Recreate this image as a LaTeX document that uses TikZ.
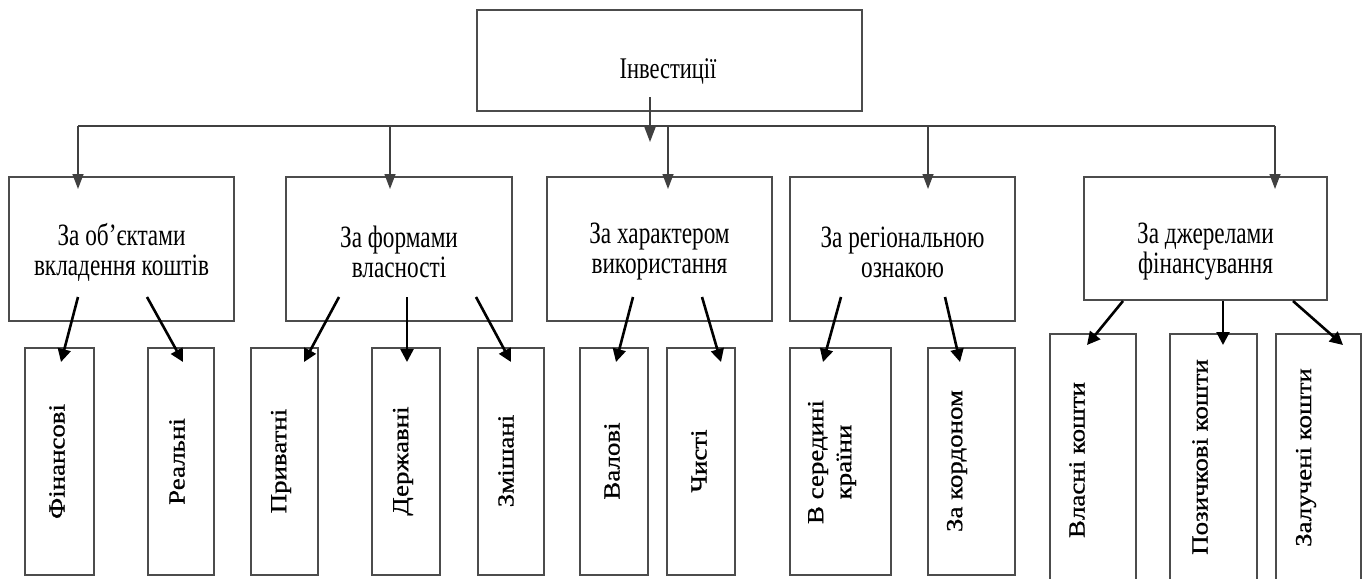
\documentclass[tikz,border=0pt]{standalone}
\usepackage{fontspec}
\setmainfont{Liberation Serif}
\newfontfamily\midfont[FakeStretch=0.75]{Liberation Serif}
\newfontfamily\botfont[FakeStretch=1.17,FakeBold=0.8]{Liberation Serif}
\usetikzlibrary{arrows.meta}
\begin{document}
\begin{tikzpicture}[x=1pt,y=-1pt,
  box/.style={draw=black!70,line width=1.3pt,inner sep=0pt,fill=none},
  midtxt/.style={align=center,inner sep=0pt,font=\midfont\fontsize{31}{30}\selectfont},
  toptxt/.style={inner sep=0pt,anchor=base,font=\midfont\fontsize{30}{30}\selectfont},
  bottxt/.style={rotate=90,align=center,inner sep=0pt,font=\botfont\fontsize{23}{28}\selectfont},
  busline/.style={draw=black!75,line width=1.4pt},
  busarrow/.style={draw=black!75,line width=1.4pt,-{Triangle[length=15pt,width=11pt]}},
  lowarrow/.style={draw=black,line width=2.6pt,-{Triangle[length=13pt,width=13pt]}}
]
\useasboundingbox (0,0) rectangle (1362,578);
\fill[white] (0,0) rectangle (1362,578);

% top
\node[box,minimum width=385pt,minimum height=101pt] (top) at (669.5,60.5) {};
\node[toptxt] (toplbl) at (668,78) {Інвестиції};

% middle boxes
\node[box,minimum width=225pt,minimum height=144pt] (m1) at (121.5,249) {};
\node[box,minimum width=226pt,minimum height=144pt] (m2) at (399,249) {};
\node[box,minimum width=225pt,minimum height=144pt] (m3) at (659.5,249) {};
\node[box,minimum width=225pt,minimum height=144pt] (m4) at (902.5,249) {};
\node[box,minimum width=243pt,minimum height=123pt] (m5) at (1205.5,238.5) {};

\node[midtxt] (t1) at (121.5,252) {За об’єктами\\вкладення коштів};
\node[midtxt] (t2) at (399,252) {За формами\\власності};
\node[midtxt] (t3) at (659.5,252) {За характером\\використання};
\node[midtxt] (t4) at (902.5,252) {За регіональною\\ознакою};
\node[midtxt] (t5) at (1205.5,252) {За джерелами\\фінансування};

% bottom boxes
\node[box,minimum width=69pt,minimum height=227pt] (b1) at (59.5,461.5) {};
\node[box,minimum width=66pt,minimum height=227pt] (b2) at (181,461.5) {};
\node[box,minimum width=67pt,minimum height=227pt] (b3) at (284.5,461.5) {};
\node[box,minimum width=68pt,minimum height=227pt] (b4) at (406,461.5) {};
\node[box,minimum width=66pt,minimum height=227pt] (b5) at (511,461.5) {};
\node[box,minimum width=68pt,minimum height=227pt] (b6) at (614,461.5) {};
\node[box,minimum width=68pt,minimum height=227pt] (b7) at (701,461.5) {};
\node[box,minimum width=101pt,minimum height=227pt] (b8) at (840.5,461.5) {};
\node[box,minimum width=87pt,minimum height=227pt] (b9) at (971.5,461.5) {};
\node[box,minimum width=86pt,minimum height=266pt] (b10) at (1093,467) {};
\node[box,minimum width=87pt,minimum height=266pt] (b11) at (1213.5,467) {};
\node[box,minimum width=85pt,minimum height=266pt] (b12) at (1318.5,467) {};

\node[bottxt] (l1) at (57,461.5) {Фінансові};
\node[bottxt] (l2) at (177,461.5) {Реальні};
\node[bottxt] (l3) at (281,461) {Приватні};
\node[bottxt] (l4) at (403,461) {Державні};
\node[bottxt] (l5) at (506,461) {Змішані};
\node[bottxt] (l6) at (612,461) {Валові};
\node[bottxt] (l7) at (699,461) {Чисті};
\node[bottxt] (l8) at (832,462) {В середині\\країни};
\node[bottxt] (l9) at (957,461) {За кордоном};
\node[bottxt] (l10) at (1077,460) {Власні кошти};
\node[bottxt] (l11) at (1200,457) {Позичкові кошти};
\node[bottxt] (l12) at (1306,457.5) {Залучені кошти};

% top arrow and bus
\coordinate (ta) at (650,97);
\coordinate (tb) at (650,142);
\draw[busarrow] (ta) -- (tb);
\coordinate (bus1) at (78,126);
\coordinate (bus2) at (390,126);
\coordinate (bus3) at (668,126);
\coordinate (bus4) at (928,126);
\coordinate (bus5) at (1275,126);
\draw[busline] (bus1) -- (bus5);
\coordinate (d1) at (78,189);
\coordinate (d2) at (390,189);
\coordinate (d3) at (668,189);
\coordinate (d4) at (928,189);
\coordinate (d5) at (1275,189);
\foreach \i in {1,...,5} \draw[busarrow] (bus\i) -- (d\i);

% lower arrows
\coordinate (s1) at (78,297);   \coordinate (e1) at (61,362);
\coordinate (s2) at (147,297);  \coordinate (e2) at (183,362);
\coordinate (s3) at (339,297);  \coordinate (e3) at (304,362);
\coordinate (s4) at (407,297);  \coordinate (e4) at (407,362);
\coordinate (s5) at (476,297);  \coordinate (e5) at (511,362);
\coordinate (s6) at (633,297);  \coordinate (e6) at (616,362);
\coordinate (s7) at (702,297);  \coordinate (e7) at (721,362);
\coordinate (s8) at (841,297);  \coordinate (e8) at (823,362);
\coordinate (s9) at (945,297);  \coordinate (e9) at (960,362);
\coordinate (s10) at (1123,301); \coordinate (e10) at (1087,345);
\coordinate (s11) at (1223,301); \coordinate (e11) at (1223,345);
\coordinate (s12) at (1293,301); \coordinate (e12) at (1343,345);
\foreach \i in {1,...,12} \draw[lowarrow] (s\i) -- (e\i);
\end{tikzpicture}
\end{document}
